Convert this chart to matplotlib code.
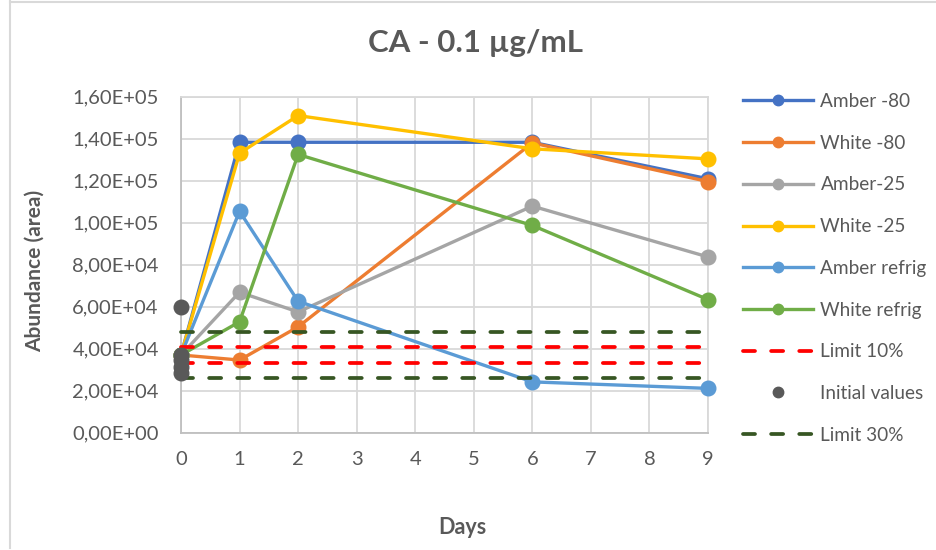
import matplotlib
matplotlib.use("Agg")
import matplotlib.pyplot as plt
from matplotlib.ticker import FuncFormatter, MultipleLocator
from matplotlib.lines import Line2D

plt.rcParams['font.family'] = ['Lato', 'DejaVu Sans']

# Sampling days and measured abundance for each storage condition
days = [0, 1, 2, 6, 9]
amber_m80 = [37000, 138300, 138300, 138300, 120900]
white_m80 = [37000, 34600, 50400, 138000, 119600]
amber_m25 = [37000, 66900, 57500, 107900, 83700]
white_m25 = [37000, 133100, 151000, 135200, 130400]
amber_refrig = [37000, 105400, 62600, 24200, 21100]
white_refrig = [37000, 52800, 132500, 98700, 63400]

series_names = ["Amber -80", "White -80", "Amber-25", "White -25",
                "Amber refrig", "White refrig"]
series_values = [amber_m80, white_m80, amber_m25, white_m25,
                 amber_refrig, white_refrig]
series_colors = ["#4472C4", "#ED7D31", "#A5A5A5", "#FFC000",
                 "#5B9BD5", "#70AD47"]

# Initial replicate values at day 0 and acceptance limits
initial_days = [0, 0, 0, 0, 0]
initial_values = [60000, 37000, 34500, 31500, 28500]
limit_days = [0, 9]
limit10_low = [33300, 33300]
limit10_high = [40700, 40700]
limit30_low = [25900, 25900]
limit30_high = [48100, 48100]

text_color = "#595959"
grid_color = "#D9D9D9"

fig = plt.figure(figsize=(9.36, 5.5), dpi=100)
ax = fig.add_axes([181 / 936, 1 - 432.7 / 550, (708 - 181) / 936, (432.7 - 96.7) / 550])

handles = []
for name, vals, col in zip(series_names, series_values, series_colors):
    ln, = ax.plot(days, vals, color=col, lw=2.4, marker='o', markersize=10.5,
                  label=name, clip_on=False, zorder=3)
    handles.append(ln)

dash_kw = dict(lw=2.7, dash_capstyle='round', clip_on=False, zorder=4)
l10, = ax.plot(limit_days, limit10_low, color="#FF0000", dashes=(3.2, 4.3), label="Limit 10%", **dash_kw)
ax.plot(limit_days, limit10_high, color="#FF0000", dashes=(3.2, 4.3), **dash_kw)
init, = ax.plot(initial_days, initial_values, linestyle='none', marker='o', markersize=10.5,
                color="#595959", label="Initial values", clip_on=False, zorder=5)
l30, = ax.plot(limit_days, limit30_low, color="#375623", dashes=(3.2, 4.3), label="Limit 30%", **dash_kw)
ax.plot(limit_days, limit30_high, color="#375623", dashes=(3.2, 4.3), **dash_kw)
handles += [l10, init, l30]

ax.set_xlim(0, 9)
ax.set_ylim(0, 160000)
ax.xaxis.set_major_locator(MultipleLocator(1))
ax.yaxis.set_major_locator(MultipleLocator(20000))
ax.yaxis.set_major_formatter(FuncFormatter(lambda v, p: f"{v:.2E}".replace('.', ',')))
ax.grid(True, color=grid_color, lw=1.3, zorder=0)
ax.set_axisbelow(True)
for s in ax.spines.values():
    s.set_color(grid_color)
    s.set_linewidth(1.3)
ax.spines['bottom'].set_color("#BFBFBF")
ax.spines['left'].set_color("#BFBFBF")
ax.tick_params(length=0, labelsize=14.5, colors=text_color)
ax.tick_params(axis='y', pad=16)
ax.tick_params(axis='x', pad=13)

fig.text(475 / 936, 1 - 43 / 550, "CA - 0.1 µg/mL", ha='center', va='center',
         fontsize=22.5, fontweight='bold', color=text_color)
fig.text(35 / 936, 1 - 271 / 550, "Abundance (area)", ha='center', va='center',
         rotation=90, fontsize=15, fontweight='bold', color=text_color)
fig.text(462 / 936, 1 - 528 / 550, "Days", ha='center', va='center',
         fontsize=15.5, fontweight='bold', color=text_color)

leg = fig.legend(handles=handles, labels=[h.get_label() for h in handles],
                 loc='upper left', bbox_to_anchor=(743 / 936, 1 - 93 / 550),
                 frameon=False, fontsize=13.7, handlelength=3.7, handletextpad=0.37,
                 labelspacing=1.30, numpoints=1, borderaxespad=0, borderpad=0)
for t in leg.get_texts():
    t.set_color(text_color)
for h in leg.legend_handles:
    h.set_markersize(7.5)

# Chart area frame
fig.add_artist(Line2D([9.5 / 936, 9.5 / 936], [0.003, 1], transform=fig.transFigure,
                      color=grid_color, lw=1.5))
fig.add_artist(Line2D([10 / 936, 1], [1 - 1.5 / 550, 1 - 1.5 / 550], transform=fig.transFigure,
                      color=grid_color, lw=1.5))

fig.savefig("out.png", dpi=100)
